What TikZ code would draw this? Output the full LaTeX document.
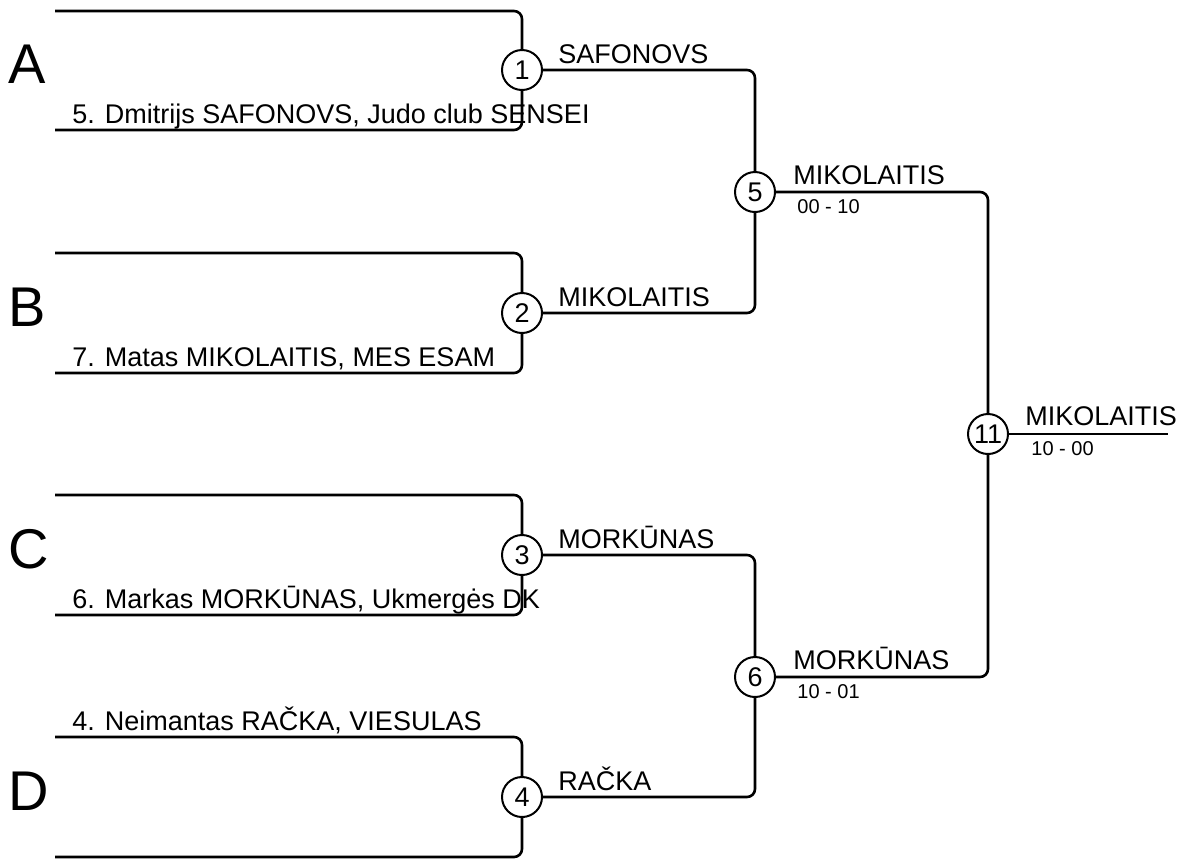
\documentclass[tikz,border=0pt]{standalone}
\usepackage{fontspec}
\setmainfont{Liberation Sans}
\usetikzlibrary{positioning}
\tikzset{
  bout/.style={circle,draw,fill=white,line width=1pt,minimum size=20pt,inner sep=0pt,font=\fontsize{13.5}{16}\selectfont},
  bracket/.style={line width=1.3pt,rounded corners=4pt},
  winner/.style={anchor=base west,inner sep=0pt,font=\fontsize{13.5}{16}\selectfont},
  fighter/.style={anchor=base west,inner sep=0pt,font=\fontsize{13.5}{16}\selectfont},
  score/.style={anchor=base west,inner sep=0pt,font=\fontsize{10}{12}\selectfont},
  pool/.style={anchor=base west,inner sep=0pt,font=\fontsize{28}{32}\selectfont},
}
\begin{document}
\begin{tikzpicture}[x=0.5pt,y=-0.5pt]
  \useasboundingbox (0,0) rectangle (1181,858);

  % pool lines
  \coordinate (aT) at (55,11);  \coordinate (aB) at (55,130);
  \coordinate (bT) at (55,253); \coordinate (bB) at (55,373);
  \coordinate (cT) at (55,495); \coordinate (cB) at (55,615);
  \coordinate (dT) at (55,737); \coordinate (dB) at (55,857);
  \coordinate (fin) at (1168,434);

  % bouts
  \node[bout] (b1) at (522,70) {1};
  \node[bout] (b2) at (522,313) {2};
  \node[bout] (b3) at (522,555) {3};
  \node[bout] (b4) at (522,797) {4};
  \node[bout] (b5) at (755,192) {5};
  \node[bout] (b6) at (755,677) {6};
  \node[bout] (b11) at (988,434) {11};

  \draw[bracket] (aT) -| (b1);
  \draw[bracket] (aB) -| (b1);
  \draw[bracket] (bT) -| (b2);
  \draw[bracket] (bB) -| (b2);
  \draw[bracket] (cT) -| (b3);
  \draw[bracket] (cB) -| (b3);
  \draw[bracket] (dT) -| (b4);
  \draw[bracket] (dB) -| (b4);

  \draw[bracket] (b1) -| (b5);
  \draw[bracket] (b2) -| (b5);
  \draw[bracket] (b3) -| (b6);
  \draw[bracket] (b4) -| (b6);
  \draw[bracket] (b5) -| (b11);
  \draw[bracket] (b6) -| (b11);
  \draw[bracket] (b11) -- (fin);

  % pools
  \node[pool] (pA) at (8,83) {A};
  \node[pool] (pB) at (8,326) {B};
  \node[pool] (pC) at (8,568) {C};
  \node[pool] (pD) at (8,810) {D};

  % fighters
  \node[fighter] (f1) at (72,123) {5. Dmitrijs SAFONOVS, Judo club SENSEI};
  \node[fighter] (f2) at (72,366) {7. Matas MIKOLAITIS, MES ESAM};
  \node[fighter] (f3) at (72,608) {6. Markas MORKŪNAS, Ukmergės DK};
  \node[fighter] (f4) at (72,730) {4. Neimantas RAČKA, VIESULAS};

  % winners
  \node[winner] (w1) at (558,63) {SAFONOVS};
  \node[winner] (w2) at (558,306) {MIKOLAITIS};
  \node[winner] (w3) at (558,548) {MORKŪNAS};
  \node[winner] (w4) at (558,790) {RAČKA};
  \node[winner] (w5) at (793,184) {MIKOLAITIS};
  \node[winner] (w6) at (793,669) {MORKŪNAS};
  \node[winner] (w11) at (1025,425) {MIKOLAITIS};

  % scores
  \node[score] (s5) at (797,213) {00 - 10};
  \node[score] (s6) at (797,698) {10 - 01};
  \node[score] (s11) at (1031,455) {10 - 00};
\end{tikzpicture}
\end{document}
